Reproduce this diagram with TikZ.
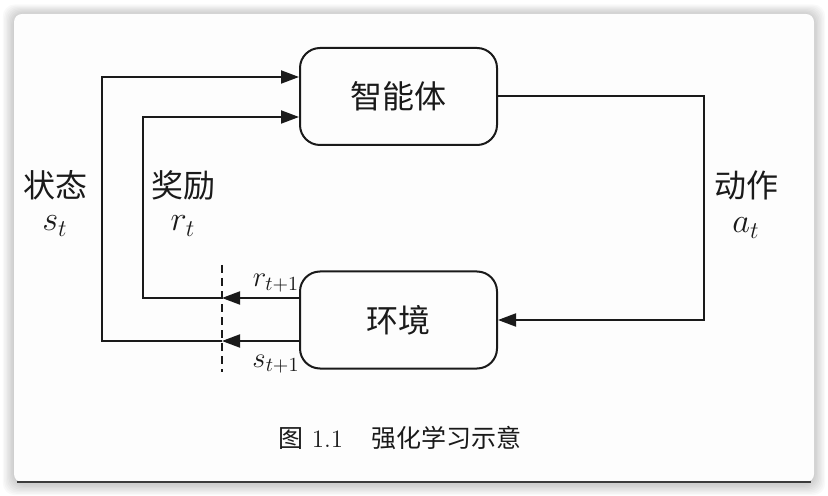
\documentclass[tikz,border=0pt]{standalone}
\usepackage{fontspec}
\newfontfamily\cjk{Noto Sans CJK SC}
\usetikzlibrary{positioning, arrows.meta, calc}
\definecolor{Ink}{HTML}{1A1A1A}
\definecolor{Card}{HTML}{FDFDFD}

\begin{document}
\begin{tikzpicture}[
    x=0.5pt, y=-0.5pt,
    box/.style={draw=Ink, line width=1pt, rounded corners=10pt, minimum width=98.5pt, minimum height=48.5pt, font=\cjk\fontsize{16}{18}\selectfont, text=Ink},
    link/.style={draw=Ink, line width=1pt},
    tip/.style={-{Triangle[length=9pt,width=6.5pt]}},
    lbl/.style={font=\cjk\fontsize{16}{18}\selectfont, text=Ink},
    sym/.style={font=\fontsize{18}{20}\selectfont, text=Ink},
    small/.style={font=\fontsize{14}{16}\selectfont, text=Ink}
]
\useasboundingbox (0,0) rectangle (828,496);

% === Page card with soft shadow ===
\fill[white] (0,0) rectangle (828,496);
\foreach \k in {1,...,8}
    \fill[black, opacity=0.022, rounded corners=6pt] (14-\k*1.4, 14-\k*1.2) rectangle (814+\k*1.4, 484+\k*1.4);
\fill[Card, rounded corners=4pt] (14,14) rectangle (814,482);
\draw[Ink!85, line width=1.2pt] (17,482) -- (811,482);

% === Boxes ===
\node[box] (agent) at (398.5, 96.5) {智能体};
\node[box] (env) at (398.5, 320) {环境};

% Action loop (agent -> environment)
\draw[link, tip] (agent.east) -- ++(206,0) |- (env.east);
\node[lbl] (actname) at (746, 185) {动作};
\node[sym] (actsym) at (746, 228) {$a_t$};

% Cut line
\coordinate (cuttop) at (222, 265);
\coordinate (cutbot) at (222, 372);
\draw[Ink, line width=0.8pt, dash pattern=on 4pt off 2.5pt] (cuttop) -- (cutbot);

% Ports on the boxes
\coordinate (rout) at ($(env.west)+(0,-22)$);
\coordinate (sout) at ($(env.west)+(0,21)$);
\coordinate (rin) at ($(agent.west)+(0,20.5)$);
\coordinate (sin) at ($(agent.west)+(0,-19.5)$);

% Reward loop
\draw[link, tip] (rout) -- (rout -| cuttop);
\draw[link, tip] (rout -| cuttop) -- ++(-79,0) |- (rin);
\node[small] (rnext) at (276, 283) {$r_{t+1}$};
\node[lbl] (rewname) at (183, 185) {奖励};
\node[sym] (rewsym) at (183, 226) {$r_t$};

% State loop
\draw[link, tip] (sout) -- (sout -| cuttop);
\draw[link, tip] (sout -| cuttop) -- ++(-120,0) |- (sin);
\node[small] (snext) at (276, 364) {$s_{t+1}$};
\node[lbl] (statename) at (55, 185) {状态};
\node[sym] (statesym) at (55, 226) {$s_t$};

% Caption
\node[font=\fontsize{12.5}{14}\selectfont, text=Ink] (caption) at (400, 438) {{\cjk 图}\hspace{4pt}1.1\hspace{14pt}{\cjk 强化学习示意}};

\end{tikzpicture}
\end{document}
